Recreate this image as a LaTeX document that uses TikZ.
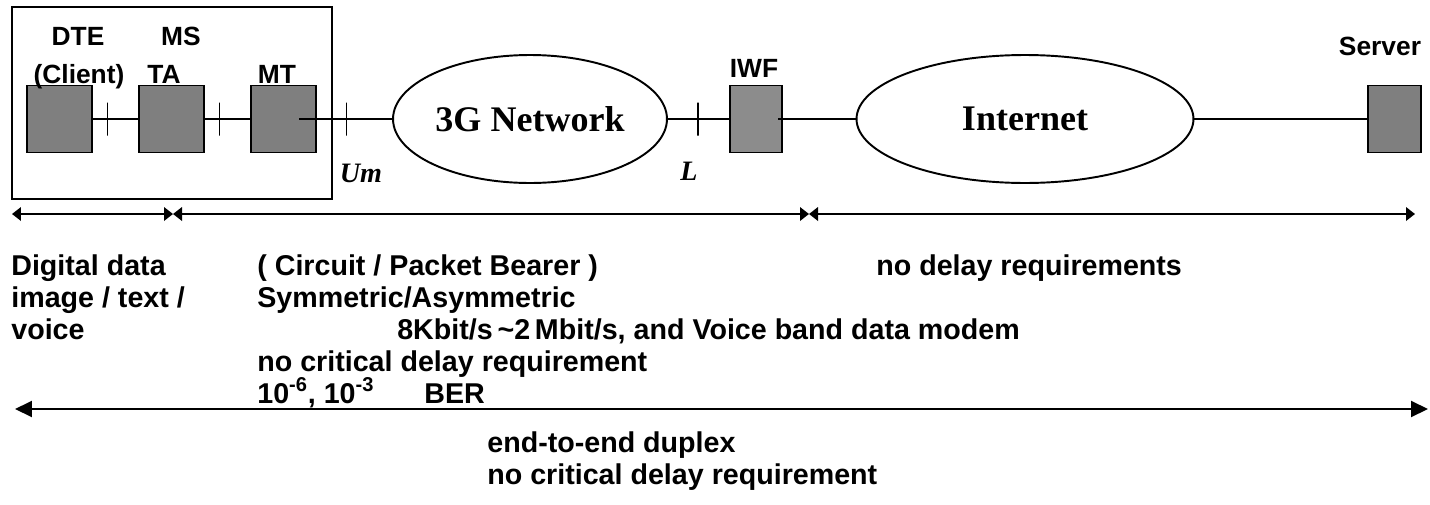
\documentclass[tikz,border=0pt]{standalone}
\usepackage{fontspec}
\setmainfont{Liberation Sans}
\newfontfamily\timesfont{Liberation Serif}
\usetikzlibrary{shapes.geometric,arrows.meta}

\definecolor{unitgray}{RGB}{127,127,127}
\definecolor{iwfgray}{RGB}{140,140,140}

\tikzset{
  unit/.style={draw, line width=1.1pt, fill=unitgray, inner sep=0pt, minimum width=1.3cm, minimum height=1.34cm},
  net/.style={ellipse, draw, line width=1.1pt, inner sep=0pt, minimum height=2.56cm, font=\timesfont\bfseries\fontsize{20.5}{24}\selectfont},
  tag/.style={font=\bfseries\fontsize{15}{18}\selectfont, inner sep=0pt, anchor=base},
  iface/.style={font=\timesfont\bfseries\itshape\fontsize{16}{19}\selectfont, inner sep=0pt, anchor=base},
  wire/.style={line width=0.9pt},
  bar/.style={draw, line width=0.9pt, inner sep=0pt, minimum width=0pt, minimum height=0.66cm},
  note/.style={font=\bfseries\fontsize{16.3}{18.2}\selectfont, inner sep=0pt, align=left},
  span/.style={{Triangle[length=0.18cm,width=0.27cm]}-{Triangle[length=0.18cm,width=0.27cm]}, line width=1.1pt},
  reach/.style={{Triangle[length=0.34cm,width=0.32cm]}-{Triangle[length=0.34cm,width=0.32cm]}, line width=1.1pt},
}

\begin{document}
\begin{tikzpicture}[x=0.02cm, y=-0.02cm]
  \useasboundingbox (0,0) rectangle (1430,504);

  % mobile station frame and its units
  \node[draw, line width=1pt, minimum width=6.4cm, minimum height=3.84cm, inner sep=0pt] (ms) at (172,103) {};
  \node[unit] (dte) at (59.5,119) {};
  \node[unit] (ta) at (171.5,119) {};
  \node[unit] (mt) at (283.5,119) {};

  % networks and far end
  \node[net, minimum width=5.48cm] (g3) at (530,119) {3G Network};
  \node[unit, fill=iwfgray, minimum width=1.04cm] (iwf) at (756,119) {};
  \node[net, minimum width=6.74cm] (inet) at (1025,119) {Internet};
  \node[unit, minimum width=1.06cm] (srv) at (1394.5,119) {};

  % labels
  \node[tag] (dtelbl) at (78,45) {DTE};
  \node[tag] (mslbl) at (181,45) {MS};
  \node[tag] (clientlbl) at (79,83) {(Client)};
  \node[tag] (talbl) at (164,83) {TA};
  \node[tag] (mtlbl) at (277,83) {MT};
  \node[tag] (iwflbl) at (754,77) {IWF};
  \node[tag] (srvlbl) at (1380,55) {Server};
  \node[iface] (um) at (361,182) {Um};
  \node[iface] (lref) at (689,180) {L};

  % links with reference points
  \coordinate (mtout) at (299,119);
  \coordinate (iwfout) at (778,119);
  \draw[wire] (dte) -- (ta) node[bar, pos=0.32] {};
  \draw[wire] (ta) -- (mt) node[bar, pos=0.32] {};
  \draw[wire] (mtout) -- (g3) node[bar, pos=0.51] {};
  \draw[wire] (g3) -- (iwf) node[bar, pos=0.49] {};
  \draw[wire] (iwfout) -- (inet);
  \draw[wire] (inet) -- (srv);

  % spans
  \coordinate (s0) at (12,214);
  \coordinate (s1) at (173,214);
  \coordinate (s2) at (809,214);
  \coordinate (s3) at (1415,214);
  \draw[span] (s0) -- (s1);
  \draw[span] (s1) -- (s2);
  \draw[span] (s2) -- (s3);
  \coordinate (e0) at (15,409);
  \coordinate (e1) at (1428,409);
  \draw[reach] (e0) -- (e1);

  % requirements
  \node[note, anchor=north west] (svc) at (11,254) {Digital data\\image / text /\\voice};
  \node[note, anchor=north west] (bearer) at (257,254) {( Circuit / Packet Bearer )\\Symmetric/Asymmetric\\\hspace*{2.8cm}8Kbit/s\,\textasciitilde2\,Mbit/s, and Voice band data modem\\no critical delay requirement\\10\textsuperscript{-6}, 10\textsuperscript{-3}\hspace{1cm}BER};
  \node[note, anchor=base west] (inetreq) at (876,275) {no delay requirements};
  \node[note, anchor=north west] (e2e) at (487,431) {end-to-end duplex\\no critical delay requirement};
\end{tikzpicture}
\end{document}
